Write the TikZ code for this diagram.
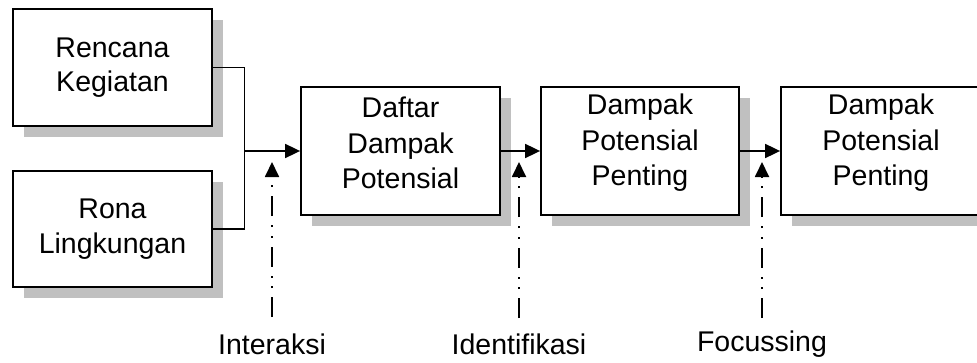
\documentclass[tikz,border=0pt]{standalone}
\usepackage{fontspec}
\setmainfont{Liberation Sans}
\usetikzlibrary{shadows,arrows.meta}
\definecolor{shadowgray}{RGB}{192,192,192}
\tikzset{
  box/.style={draw=black, line width=1.8pt, fill=white, align=center,
    minimum width=199pt, inner sep=0pt,
    font=\fontsize{28.5}{34.5}\selectfont,
    drop shadow={shadow xshift=11pt, shadow yshift=-11pt, fill=shadowgray, draw=none, opacity=1}},
  txt/.style={align=center, inner sep=0pt, font=\fontsize{28.5}{35.5}\selectfont},
  conn/.style={line width=1.6pt},
  arr/.style={line width=1.8pt, -{Triangle[length=15pt,width=14pt]}},
  dd/.style={line width=1.8pt, dash pattern=on 20pt off 9pt on 2pt off 8.5pt on 2pt off 9pt,
    -{Triangle[length=15pt,width=14pt]}},
  lbl/.style={font=\fontsize{28.5}{34.5}\selectfont, inner sep=0pt}
}
\begin{document}
\begin{tikzpicture}[x=1pt,y=1pt]
\useasboundingbox (0,0) rectangle (977,362);
\node[box, minimum height=117pt] (R) at (112.5,294.5) {Rencana\\Kegiatan};
\node[box, minimum height=116pt] (Ro) at (112.5,133) {Rona\\Lingkungan};
\node[box, minimum height=128pt] (D) at (400.5,211) {};
\node[box, minimum height=128pt, minimum width=198pt] (P1) at (640,211) {};
\node[box, minimum height=128pt, minimum width=200pt] (P2) at (881,211) {};
\node[txt] (Dt) at ([yshift=8pt]D.center) {Daftar\\Dampak\\Potensial};
\node[txt] (P1t) at ([yshift=8pt]P1.center) {Dampak\\Potensial\\Penting};
\node[txt] (P2t) at ([yshift=8pt]P2.center) {Dampak\\Potensial\\Penting};
\coordinate (J) at (244.5,211);
\draw[conn] (R.east) -| (J) |- (Ro.east);
\draw[arr] (J) -- (D.west);
\draw[arr] (D.east) -- (P1.west);
\draw[arr] (P1.east) -- (P2.west);
\coordinate (b1) at (272,45); \coordinate (t1) at (272,200);
\coordinate (b2) at (519,44); \coordinate (t2) at (519,200);
\coordinate (b3) at (762,44); \coordinate (t3) at (762,200);
\draw[dd] (b1) -- (t1);
\draw[dd] (b2) -- (t2);
\draw[dd] (b3) -- (t3);
\node[lbl] (L1) at (272,18) {Interaksi};
\node[lbl] (L2) at (519,18) {Identifikasi};
\node[lbl] (L3) at (762,18) {Focussing};
\end{tikzpicture}
\end{document}
